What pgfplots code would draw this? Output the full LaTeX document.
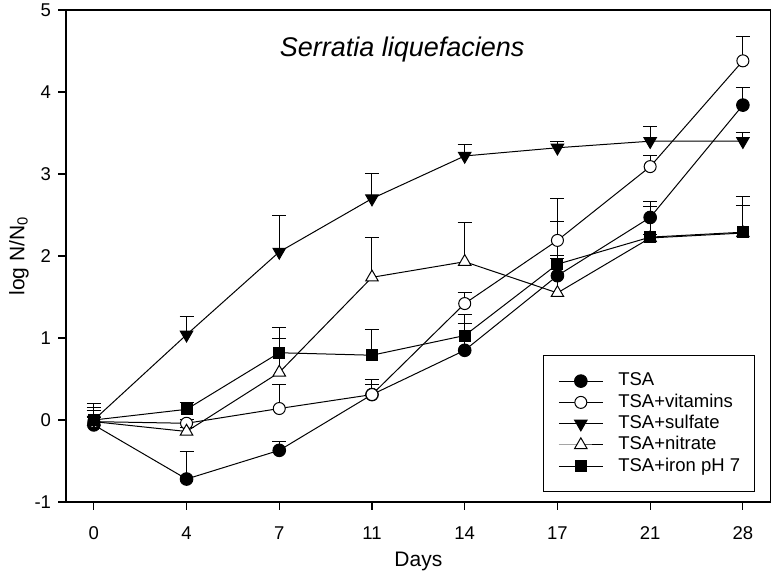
\documentclass[border=0pt]{standalone}
\usepackage{fontspec}
\setmainfont{Liberation Sans}
\usepackage{pgfplots}
\pgfplotsset{compat=1.18}
\usepackage{pgfplotstable}

% x = category index (0..7 -> days 0,4,7,11,14,17,21,28), y = log N/N0, e = upper error
\pgfplotstableread{
x y e
0 -0.06 0.26
1 -0.72 0.33
2 -0.37 0.11
3 0.31 0.12
4 0.85 0.33
5 1.76 0.66
6 2.47 0.19
7 3.84 0.22
}\tsa
\pgfplotstableread{
x y e
0 -0.02 0.17
1 -0.04 0.05
2 0.14 0.29
3 0.31 0.18
4 1.42 0.13
5 2.19 0.51
6 3.09 0.14
7 4.38 0.30
}\vit
\pgfplotstableread{
x y e
0 0.00 0.11
1 1.04 0.22
2 2.05 0.44
3 2.70 0.31
4 3.22 0.14
5 3.32 0.08
6 3.40 0.18
7 3.40 0.11
}\sulf
\pgfplotstableread{
x y e
0 -0.02 0.05
1 -0.14 0.05
2 0.58 0.41
3 1.74 0.49
4 1.93 0.48
5 1.55 0.42
6 2.22 0.38
7 2.28 0.34
}\nitr
\pgfplotstableread{
x y e
0 0.00 0.11
1 0.13 0.08
2 0.82 0.31
3 0.79 0.31
4 1.03 0.26
5 1.90 0.10
6 2.23 0.03
7 2.29 0.44
}\iron

\pgfplotsset{ser/.style={black, line width=1bp,
    error bars/y dir=plus, error bars/y explicit,
    error bars/error bar style={black, line width=1bp},
    error bars/error mark options={rotate=90, mark size=7bp, black, line width=1bp}}}

\begin{document}
\begin{tikzpicture}
\begin{axis}[
  name=ax,
  scale only axis,
  width=704.7bp, height=492bp,
  xmin=-0.3, xmax=7.3, ymin=-1, ymax=5,
  xtick={0,...,7}, xticklabels={0,4,7,11,14,17,21,28},
  ytick={-1,0,...,5}, yticklabels={-1,0,1,2,3,4,5},
  tick align=outside, xtick pos=left, ytick pos=left,
  major tick length=7.5bp,
  tick style={black, line width=1.1bp},
  axis line style={black, line width=1.3bp},
  ticklabel style={font=\fontsize{18.5bp}{22bp}\selectfont},
  xticklabel style={yshift=-14bp},
  yticklabel style={xshift=-4bp},
  xlabel={Days}, ylabel={log N/N\textsubscript{0}},
  label style={font=\fontsize{21bp}{25bp}\selectfont},
  xlabel style={at={(axis description cs:0.5,0)}, anchor=center, yshift=-59bp},
  ylabel style={at={(axis description cs:0,0.5)}, anchor=center, rotate=0, yshift=47bp},
  legend cell align=left,
  legend style={at={(rel axis cs:0.677,0.299)}, anchor=north west,
    draw=black, line width=1.1bp, inner xsep=14.7bp, inner ysep=15bp,
    font=\fontsize{18.5bp}{21bp}\selectfont, row sep=0pt,
    nodes={text height=13.5bp, text depth=4bp, inner ysep=1.9bp, inner xsep=0pt},
    /tikz/every odd column/.append style={column sep=15bp}},
  legend image code/.code={\draw[mark repeat=2,mark phase=2] plot coordinates {(0bp,0bp) (22bp,0bp) (44bp,0bp)};},
]
\addplot[ser, mark=*, mark size=6.3bp, mark options={solid, fill=black, line width=1bp}] table[x=x, y=y, y error=e]{\tsa};
\addlegendentry{TSA}
\addplot[ser, mark=*, mark size=6bp, mark options={solid, fill=white, line width=1bp}] table[x=x, y=y, y error=e]{\vit};
\addlegendentry{TSA+vitamins}
\addplot[ser, mark=triangle*, mark size=7.2bp, mark options={solid, rotate=180, fill=black, line width=1bp}] table[x=x, y=y, y error=e]{\sulf};
\addlegendentry{TSA+sulfate}
\addplot[ser, mark=triangle*, mark size=7.2bp, mark options={solid, fill=white, line width=1bp}] table[x=x, y=y, y error=e]{\nitr};
\addlegendentry{TSA+nitrate}
\addplot[ser, mark=square*, mark size=5.5bp, mark options={solid, fill=black, line width=1bp}] table[x=x, y=y, y error=e]{\iron};
\addlegendentry{TSA+iron pH 7\hspace{7.7bp}}
\node[font=\fontsize{27bp}{32bp}\selectfont\itshape, anchor=base] at (rel axis cs:0.477,0.9065) {Serratia liquefaciens};
\end{axis}
\path[use as bounding box] ([shift={(-66bp,-74bp)}]ax.south west) rectangle ++(774bp,576bp);
\end{tikzpicture}
\end{document}
